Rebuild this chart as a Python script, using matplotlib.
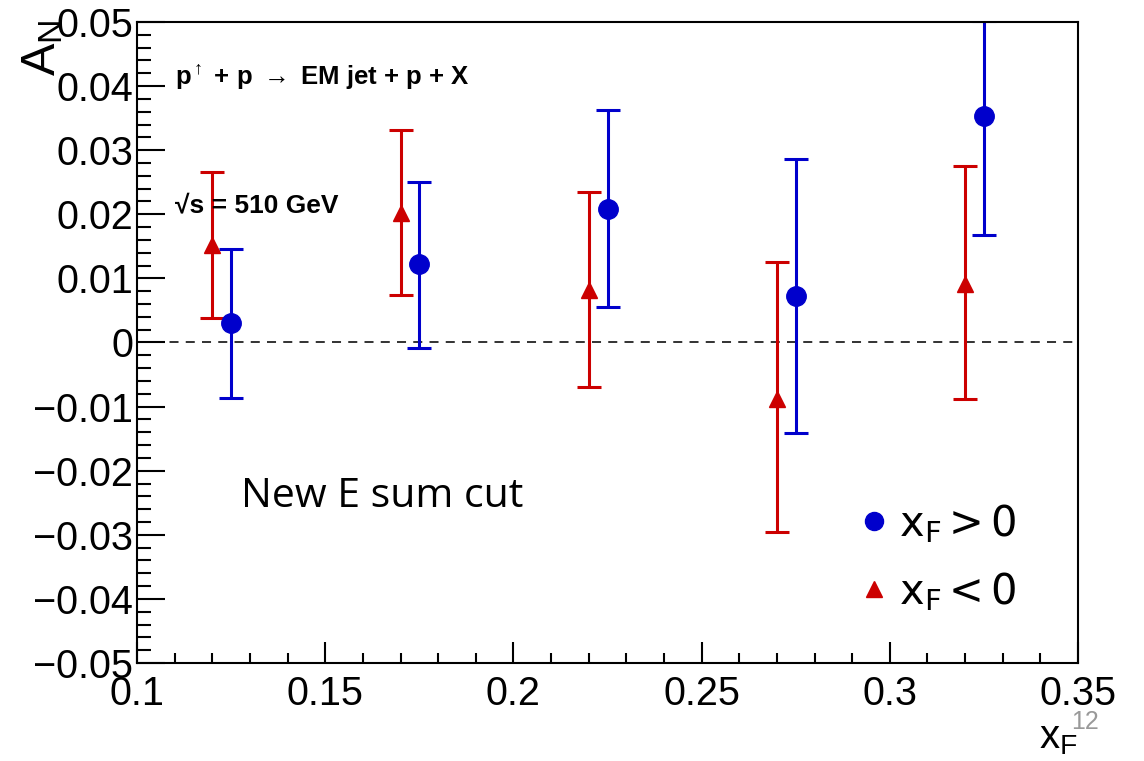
import matplotlib.pyplot as plt
from matplotlib.lines import Line2D
from matplotlib.ticker import MultipleLocator

plt.rcParams['font.family'] = ['Liberation Sans', 'DejaVu Sans']
plt.rcParams['mathtext.fontset'] = 'custom'
plt.rcParams['mathtext.rm'] = 'Liberation Sans'
plt.rcParams['mathtext.it'] = 'Liberation Sans'
plt.rcParams['mathtext.bf'] = 'Liberation Sans:bold'

# x_F > 0 (blue circles)
xf_pos = [0.125, 0.175, 0.225, 0.275, 0.325]
an_pos = [0.0030, 0.0122, 0.0208, 0.0072, 0.0354]
err_pos_lo = [0.0116, 0.0131, 0.0153, 0.0213, 0.0186]
err_pos_hi = [0.0116, 0.0129, 0.0154, 0.0215, 0.0148]

# x_F < 0 (red triangles)
xf_neg = [0.12, 0.17, 0.22, 0.27, 0.32]
an_neg = [0.0152, 0.0202, 0.0082, -0.0088, 0.0091]
err_neg_lo = [0.0114, 0.0128, 0.0151, 0.0207, 0.0179]
err_neg_hi = [0.0114, 0.0129, 0.0152, 0.0213, 0.0185]

blue = '#0000cc'
red = '#cc0000'

fig = plt.figure(figsize=(11.44, 7.61), dpi=100)
ax = fig.add_axes([0.1198, 0.1288, 0.8225, 0.8423])

ax.errorbar(xf_pos, an_pos, yerr=[err_pos_lo, err_pos_hi], fmt='o', color=blue,
            ms=14, elinewidth=2.2, capsize=8.5, capthick=2.2)
ax.errorbar(xf_neg, an_neg, yerr=[err_neg_lo, err_neg_hi], fmt='^', color=red,
            ms=12, elinewidth=2.2, capsize=8.5, capthick=2.2)
ax.axhline(0, color='#222222', ls=(0, (5, 4)), lw=1.3, zorder=0)

ax.set_xlim(0.1, 0.35)
ax.set_ylim(-0.05, 0.05)
ax.xaxis.set_major_locator(MultipleLocator(0.05))
ax.xaxis.set_minor_locator(MultipleLocator(0.01))
ax.yaxis.set_major_locator(MultipleLocator(0.01))
ax.yaxis.set_minor_locator(MultipleLocator(0.002))
ax.tick_params(which='both', direction='in', top=False, right=False,
               labelsize=28.5, width=1.5)
ax.tick_params(axis='x', which='major', length=15, pad=9)
ax.tick_params(axis='x', which='minor', length=7.5)
ax.tick_params(axis='y', which='major', length=20, pad=3)
ax.tick_params(axis='y', which='minor', length=10)
ax.xaxis.set_major_formatter(plt.FuncFormatter(lambda v, p: f'{v:g}'))
ax.yaxis.set_major_formatter(plt.FuncFormatter(
    lambda v, p: '0' if abs(v) < 1e-9 else f'{v:.2f}'.replace('-', '\u2212')))
for s in ax.spines.values():
    s.set_linewidth(1.5)

fig.text(0.037, 0.975, r'$\mathregular{A_N}$', rotation=90,
         fontsize=35, ha='center', va='top')
fig.text(0.925, 0.005, r'$\mathregular{x_F}$', fontsize=29, ha='center', va='bottom')
fig.text(0.948, 0.035, '12', fontsize=18, color='#999999', ha='center', va='bottom')

ax.text(0.04, 0.913, r'p$^{\uparrow}$ + p $\rightarrow$ EM jet + p + X',
        transform=ax.transAxes, fontsize=18.5, fontweight='bold', va='center')
ax.text(0.04, 0.714, '\u221as = 510 GeV', transform=ax.transAxes,
        fontsize=19, fontweight='bold', va='center')
ax.text(0.11, 0.259, 'New E sum cut', transform=ax.transAxes, fontsize=29.5,
        family='Open Sans', va='center')

handles = [Line2D([], [], ls='none', marker='o', color=blue, ms=13),
           Line2D([], [], ls='none', marker='^', color=red, ms=12)]
labels = [r'$\mathregular{x_F > 0}$', r'$\mathregular{x_F < 0}$']
ax.legend(handles, labels, loc='lower right', bbox_to_anchor=(0.974, 0.02), frameon=False,
          prop={'family': 'DejaVu Sans', 'size': 30}, handlelength=0.8,
          handletextpad=0.2, labelspacing=0.6)

fig.savefig('out.png', dpi=100)
